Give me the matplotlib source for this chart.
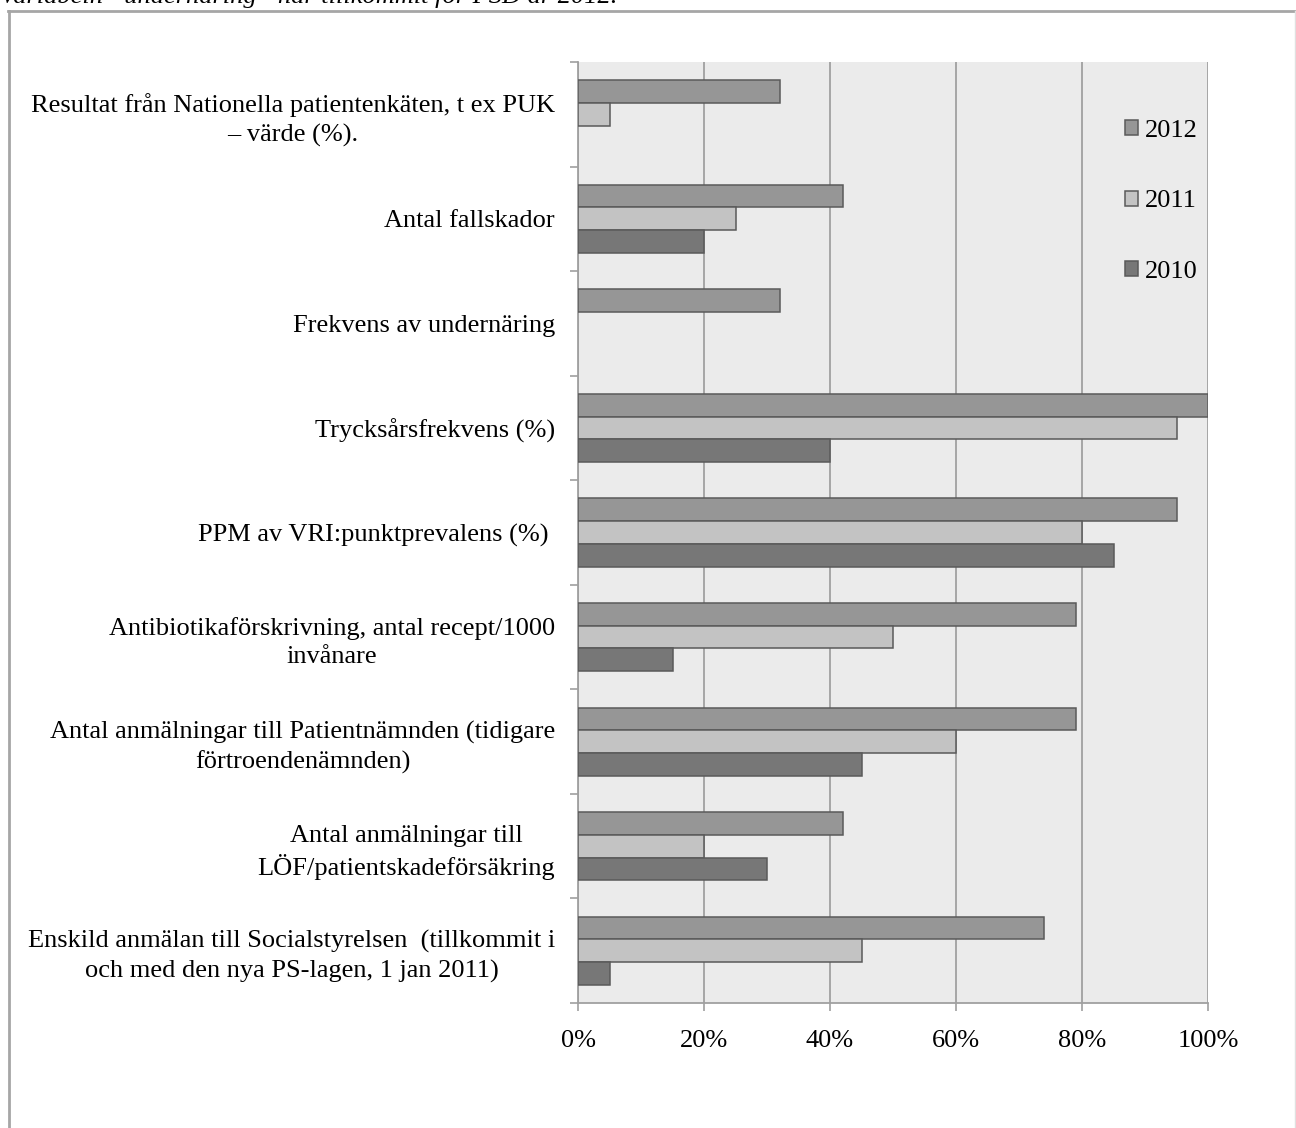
import matplotlib
matplotlib.use("Agg")
import matplotlib.pyplot as plt
from matplotlib.lines import Line2D
from matplotlib.ticker import FixedLocator, PercentFormatter

plt.rcParams['font.family'] = ['Liberation Serif', 'DejaVu Serif']

categories = [
    "Resultat från Nationella patientenkäten, t ex PUK\n– värde (%).",
    "Antal fallskador",
    "Frekvens av undernäring",
    "Trycksårsfrekvens (%)",
    "PPM av VRI:punktprevalens (%) ",
    "Antibiotikaförskrivning, antal recept/1000\ninvånare",
    "Antal anmälningar till Patientnämnden (tidigare\nförtroendenämnden)",
    "Antal anmälningar till\nLÖF/patientskadeförsäkring",
    "Enskild anmälan till Socialstyrelsen  (tillkommit i\noch med den nya PS-lagen, 1 jan 2011)",
]
v2012 = [32, 42, 32, 100, 95, 79, 79, 42, 74]
v2011 = [5, 25, 0, 95, 80, 50, 60, 20, 45]
v2010 = [0, 20, 0, 40, 85, 15, 45, 30, 5]
series_labels = ["2012", "2011", "2010"]
colors = ["#969696", "#c3c3c3", "#777777"]
xticks = [0, 20, 40, 60, 80, 100]

W, H = 1296, 1128
fig = plt.figure(figsize=(W / 100, H / 100), dpi=100)
ax = fig.add_axes([578 / W, 1 - 1003 / H, (1208 - 578) / W, (1003 - 62) / H])
ax.set_facecolor("#ebebeb")

n = len(categories)
pos = list(range(n))
h = 0.217
series = [v2012, v2011, v2010]
offsets = [-h, 0, h]
for vals, off, col, lab in zip(series, offsets, colors, series_labels):
    lws = [1.1 if v > 0 else 0 for v in vals]
    ax.barh([p + off for p in pos], vals, height=h, color=col,
            edgecolor="#5a5a5a", linewidth=lws, label=lab, zorder=3)

ax.set_xlim(0, 100)
ax.set_ylim(n - 0.5, -0.5)
ax.set_xticks(xticks)
ax.xaxis.set_major_formatter(PercentFormatter(decimals=0))
ax.set_yticks(pos)
ax.set_yticklabels(categories, multialignment="center", linespacing=1.35)
ax.yaxis.set_minor_locator(FixedLocator([p - 0.5 for p in pos] + [n - 0.5]))
ax.tick_params(axis="y", which="major", length=0, pad=16.5, labelsize=19)
ax.tick_params(axis="y", which="minor", length=6, width=1.2, color="#a0a0a0", direction="out")
ax.tick_params(axis="x", which="major", length=6, width=1.2, color="#a0a0a0",
               direction="out", labelsize=19, pad=13.5)
ax.grid(axis="x", color="#a0a0a0", linewidth=1.3, zorder=1)
ax.set_axisbelow(True)
for s in ["top", "right"]:
    ax.spines[s].set_visible(False)
for s in ["left", "bottom"]:
    ax.spines[s].set_color("#a0a0a0")
    ax.spines[s].set_linewidth(1.3)

handles, labels = ax.get_legend_handles_labels()
leg = fig.legend(handles, labels, loc="center left", bbox_to_anchor=(1125 / W, 1 - 201.5 / H),
                 frameon=False, fontsize=19, handlelength=0.5, handleheight=0.5,
                 handletextpad=0.25, labelspacing=1.83, borderpad=0, borderaxespad=0)
for hnd in leg.legend_handles:
    hnd.set_linewidth(1.1)

# frame around chart
fc = "#a6a6a6"
fig.add_artist(Line2D([8.5 / W, 8.5 / W], [0, 1 - 11 / H], color=fc, linewidth=2.0,
                      transform=fig.transFigure))
fig.add_artist(Line2D([8 / W, 1], [1 - 11 / H, 1 - 11 / H], color=fc, linewidth=2.0,
                      transform=fig.transFigure))
fig.add_artist(Line2D([1295 / W, 1295 / W], [0, 1 - 11 / H], color="#e0e0e0", linewidth=1.0,
                      transform=fig.transFigure))

# cut-off caption at the top (as in the reference)
fig.text(0, 1 - 3 / H, "Variabeln \u201dundernäring\u201d har tillkommit för PSD år 2012.",
         fontsize=19, style="italic", va="baseline", ha="left")

fig.savefig("out.png", dpi=100)
